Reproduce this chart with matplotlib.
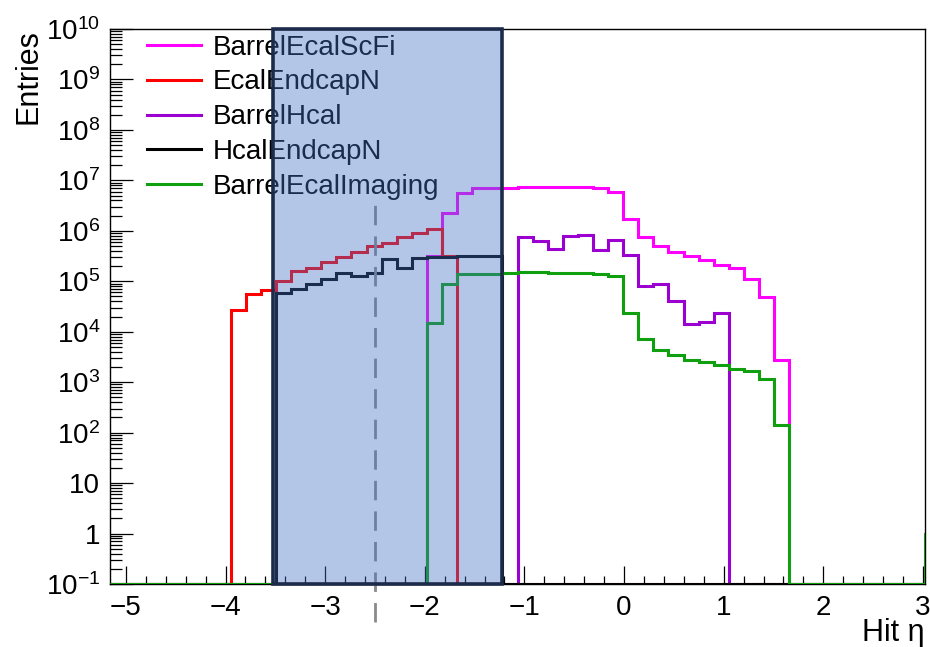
import numpy as np
import matplotlib
matplotlib.use("Agg")
import matplotlib.pyplot as plt
from matplotlib.ticker import FixedLocator, FuncFormatter, MultipleLocator, NullFormatter

plt.rcParams['font.family'] = ['Liberation Sans', 'DejaVu Sans']
plt.rcParams['mathtext.fontset'] = 'custom'
plt.rcParams['mathtext.rm'] = 'Liberation Sans'
plt.rcParams['mathtext.it'] = 'Liberation Sans:italic'

# binning of the hit-eta histograms
eta_min = -5.16
bin_width = 0.1515
n_visible = 54
n_bins = 55          # one extra bin just past the frame (green edge at right)
y_floor = 0.1

# first filled bin index + bin contents
scfi_first = 21
scfi_counts = [3.2e5, 2.3e6, 5.5e6, 6.9e6, 7.1e6, 7.2e6, 7.3e6, 7.4e6, 7.4e6,
               7.4e6, 7.3e6, 7.2e6, 6.0e6, 1.74e6, 7.6e5, 5.0e5, 3.8e5, 3.2e5,
               2.6e5, 2.1e5, 1.8e5, 1.1e5, 4.9e4, 2.75e3]

ecal_endcap_first = 8
ecal_endcap_counts = [2.7e4, 5.5e4, 6.6e4, 1.0e5, 1.6e5, 1.8e5, 2.4e5, 3.0e5,
                      3.8e5, 5.1e5, 5.8e5, 7.4e5, 9.1e5, 1.07e6, 3.2e5]

hcal_first = 27
hcal_counts = [7.6e5, 6.3e5, 4.3e5, 7.9e5, 8.1e5, 4.1e5, 6.5e5, 3.3e5, 7.9e4,
               8.7e4, 4.1e4, 1.4e4, 1.55e4, 2.4e4]

hcal_endcap_first = 11
hcal_endcap_counts = [5.8e4, 6.9e4, 8.7e4, 1.1e5, 1.45e5, 1.3e5, 1.45e5, 2.75e5,
                      1.8e5, 2.95e5, 3.0e5, 3.0e5, 3.1e5, 3.1e5, 3.15e5]

imaging_first = 21
imaging_counts = [1.5e4, 8.7e4, 1.4e5, 1.38e5, 1.4e5, 1.48e5, 1.5e5, 1.5e5,
                  1.48e5, 1.45e5, 1.45e5, 1.4e5, 1.3e5, 2.3e4, 7.1e3, 4.3e3,
                  3.4e3, 2.8e3, 2.5e3, 2.2e3, 1.8e3, 1.66e3, 1.15e3, 1.4e2]
imaging_last_bin = 1.0

labels = ["BarrelEcalScFi", "EcalEndcapN", "BarrelHcal", "HcalEndcapN", "BarrelEcalImaging"]
colors = ["#ff00ff", "#ff0000", "#9b00d0", "#000000", "#0f9f0f"]

# acceptance box and cut line
box_lo, box_hi = -3.52, -1.225
cut_eta = -2.5


def fill(first, counts):
    h = np.zeros(n_bins)
    h[first:first + len(counts)] = counts
    return h


edges = eta_min + bin_width * np.arange(n_bins + 1)
imaging = fill(imaging_first, imaging_counts)
imaging[-1] = imaging_last_bin
hists = [fill(scfi_first, scfi_counts),
         fill(ecal_endcap_first, ecal_endcap_counts),
         fill(hcal_first, hcal_counts),
         fill(hcal_endcap_first, hcal_endcap_counts),
         imaging]

fig = plt.figure(figsize=(9.3, 6.47), dpi=100)
ax = fig.add_axes([110 / 930, 63 / 647, 815 / 930, 555 / 647])

for h, lab, col in zip(hists, labels, colors):
    vals = np.where(h > 0, h, y_floor)
    ax.stairs(vals, edges, baseline=None, color=col, lw=2.2, label=lab, zorder=3)

ax.set_yscale('log')
ax.set_xlim(eta_min, edges[n_visible])
ax.set_ylim(y_floor, 1e10)

ax.axvline(cut_eta, ymin=-0.0686, ymax=0.688, color='#8a8a8a', lw=2,
           dashes=(7, 4), clip_on=False, zorder=4)
ax.axvspan(box_lo, box_hi, facecolor=(0.267, 0.447, 0.769, 0.4),
           edgecolor='#1c2b4a', lw=2.6, zorder=6, clip_on=False)

# ticks
ax.xaxis.set_major_locator(MultipleLocator(1))
ax.xaxis.set_minor_locator(MultipleLocator(0.2))
ax.yaxis.set_major_locator(FixedLocator(10.0 ** np.arange(-1, 11)))
minor = [s * 10.0 ** e for e in range(-1, 10) for s in range(2, 10)]
ax.yaxis.set_minor_locator(FixedLocator(minor))
ax.yaxis.set_minor_formatter(NullFormatter())


def ylab(v, pos):
    e = int(round(np.log10(v)))
    if e == 0:
        return "1"
    if e == 1:
        return "10"
    return r"$10^{%d}$" % e


ax.yaxis.set_major_formatter(FuncFormatter(ylab))
ax.tick_params(which='both', direction='in', top=False, right=False, width=0.9,
               labelsize=20)
ax.tick_params(axis='x', which='major', length=13, pad=8)
ax.tick_params(axis='x', which='minor', length=6)
ax.tick_params(axis='y', which='major', length=16.5, pad=7)
ax.tick_params(axis='y', which='minor', length=8.5)
for s in ax.spines.values():
    s.set_linewidth(1.0)

ax.set_xlabel("Hit η", loc='right', fontsize=22, labelpad=-2)
ax.set_ylabel("Entries", loc='top', fontsize=22)
ax.yaxis.set_label_coords(-0.082, 1.0)

leg = ax.legend(loc='upper left', bbox_to_anchor=(0.0454, 0.99), frameon=False,
                fontsize=20, handlelength=1.93, handletextpad=0.44,
                labelspacing=0.32, borderpad=0, borderaxespad=0)
leg.set_zorder(5)

fig.savefig("out.png", dpi=100)
